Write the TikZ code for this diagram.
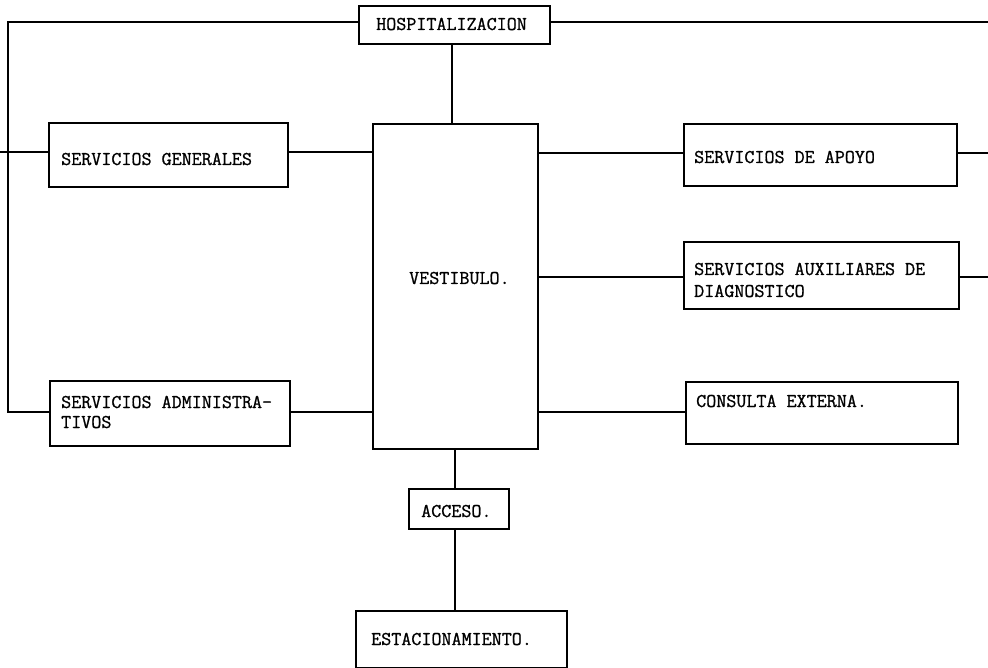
\documentclass[tikz,border=0pt]{standalone}
\usepackage{fontspec}
\newfontfamily\typew{Latin Modern Mono}[FakeBold=1]
\begin{document}
\begin{tikzpicture}[x=1pt,y=-1pt,line width=2.4pt,
  box/.style={draw,rectangle,inner sep=0pt,anchor=north west},
  lbl/.style={anchor=base west,inner sep=0pt,font=\typew\fontsize{19.5}{24}\selectfont,align=left}]
\useasboundingbox (0,0) rectangle (988,668);
% boxes
\node[box,minimum width=191pt,minimum height=38pt] (hosp) at (358,5) {};
\node[box,minimum width=239pt,minimum height=64pt] (sg) at (48,122) {};
\node[box,minimum width=165pt,minimum height=325pt] (vest) at (372,123) {};
\node[box,minimum width=240pt,minimum height=65pt] (adm) at (49,380) {};
\node[box,minimum width=273pt,minimum height=62pt] (apoyo) at (683,123) {};
\node[box,minimum width=275pt,minimum height=67pt] (aux) at (683,241) {};
\node[box,minimum width=272pt,minimum height=62pt] (cons) at (685,381) {};
\node[box,minimum width=100pt,minimum height=40pt] (acc) at (408,488) {};
\node[box,minimum width=211pt,minimum height=57pt] (est) at (355,610) {};
% texts
\node[lbl] (thosp) at (375,30) {HOSPITALIZACION};
\node[lbl] (tsg) at (60,165) {SERVICIOS GENERALES};
\node[lbl] (tvest) at (408,284) {VESTIBULO.};
\node[lbl] (tadm1) at (60,408) {SERVICIOS ADMINISTRA-};
\node[lbl] (tadm2) at (60,428) {TIVOS};
\node[lbl] (tapoyo) at (693,163) {SERVICIOS DE APOYO};
\node[lbl] (taux1) at (693,275) {SERVICIOS AUXILIARES DE};
\node[lbl] (taux2) at (693,297) {DIAGNOSTICO};
\node[lbl] (tcons) at (695,407) {CONSULTA EXTERNA.};
\node[lbl] (tacc) at (420,517) {ACCESO.};
\node[lbl] (test) at (370,645) {ESTACIONAMIENTO.};
% line levels and free ends
\coordinate (ytop) at (0,22);
\coordinate (ysg) at (0,152);
\coordinate (yap) at (0,153);
\coordinate (yaux) at (0,277);
\coordinate (ylow) at (0,412);
\coordinate (xhv) at (452,0);
\coordinate (xva) at (455,0);
\coordinate (tl) at (8,22);
\coordinate (bl) at (8,412);
\coordinate (sgl) at (0,152);
\coordinate (r1) at (988,22);
\coordinate (r2) at (988,153);
\coordinate (r3) at (988,277);
% connectors
\draw (hosp.west |- ytop) -- (tl) -- (bl) -- (adm.west |- bl);
\draw (sgl) -- (sg.west |- sgl);
\draw (hosp.east |- r1) -- (r1);
\draw (apoyo.east |- r2) -- (r2);
\draw (aux.east |- r3) -- (r3);
\draw (hosp.south -| xhv) -- (vest.north -| xhv);
\draw (sg.east |- ysg) -- (vest.west |- ysg);
\draw (adm.east |- ylow) -- (vest.west |- ylow);
\draw (vest.east |- yap) -- (apoyo.west |- yap);
\draw (vest.east |- yaux) -- (aux.west |- yaux);
\draw (vest.east |- ylow) -- (cons.west |- ylow);
\draw (vest.south -| xva) -- (acc.north -| xva);
\draw (acc.south -| xva) -- (est.north -| xva);
\end{tikzpicture}
\end{document}
